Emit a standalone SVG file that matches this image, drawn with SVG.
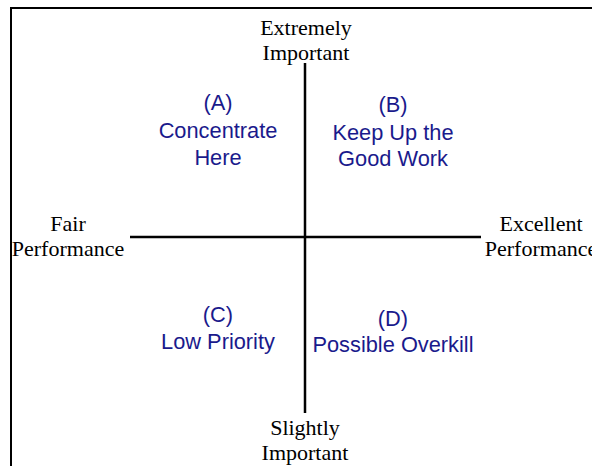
<svg xmlns="http://www.w3.org/2000/svg" width="592" height="466" viewBox="0 0 592 466">
<style>
.ax{font-family:"Liberation Serif","Times New Roman",serif;font-size:22px;fill:#000;text-anchor:middle}
.q{font-family:"Liberation Sans",Arial,sans-serif;font-size:21.8px;fill:#1a1a8c;text-anchor:middle}
.ln{stroke:#000;stroke-width:2.5;fill:none}
</style>
<rect x="0" y="0" width="592" height="466" fill="#fff"/>
<rect x="11" y="8" width="620" height="500" fill="none" stroke="#000" stroke-width="2"/>
<g id="connectors">
<line class="ln" x1="130" y1="237" x2="481" y2="237"/>
<line class="ln" x1="305" y1="63" x2="305" y2="413"/>
</g>
<g id="top-label"><text class="ax" x="306" y="35">Extremely</text><text class="ax" x="306" y="60">Important</text></g>
<g id="left-label"><text class="ax" x="68" y="231">Fair</text><text class="ax" x="68" y="256">Performance</text></g>
<g id="right-label"><text class="ax" x="541" y="231">Excellent</text><text class="ax" x="541" y="256">Performance</text></g>
<g id="bottom-label"><text class="ax" x="305" y="435">Slightly</text><text class="ax" x="305" y="460">Important</text></g>
<g id="quadrant-a"><text class="q" x="218" y="110">(A)</text><text class="q" x="218" y="138">Concentrate</text><text class="q" x="218" y="165">Here</text></g>
<g id="quadrant-b"><text class="q" x="393" y="112">(B)</text><text class="q" x="393" y="140">Keep Up the</text><text class="q" x="393" y="166">Good Work</text></g>
<g id="quadrant-c"><text class="q" x="218" y="322">(C)</text><text class="q" x="218" y="349">Low Priority</text></g>
<g id="quadrant-d"><text class="q" x="393" y="326">(D)</text><text class="q" x="393" y="352">Possible Overkill</text></g>
</svg>
